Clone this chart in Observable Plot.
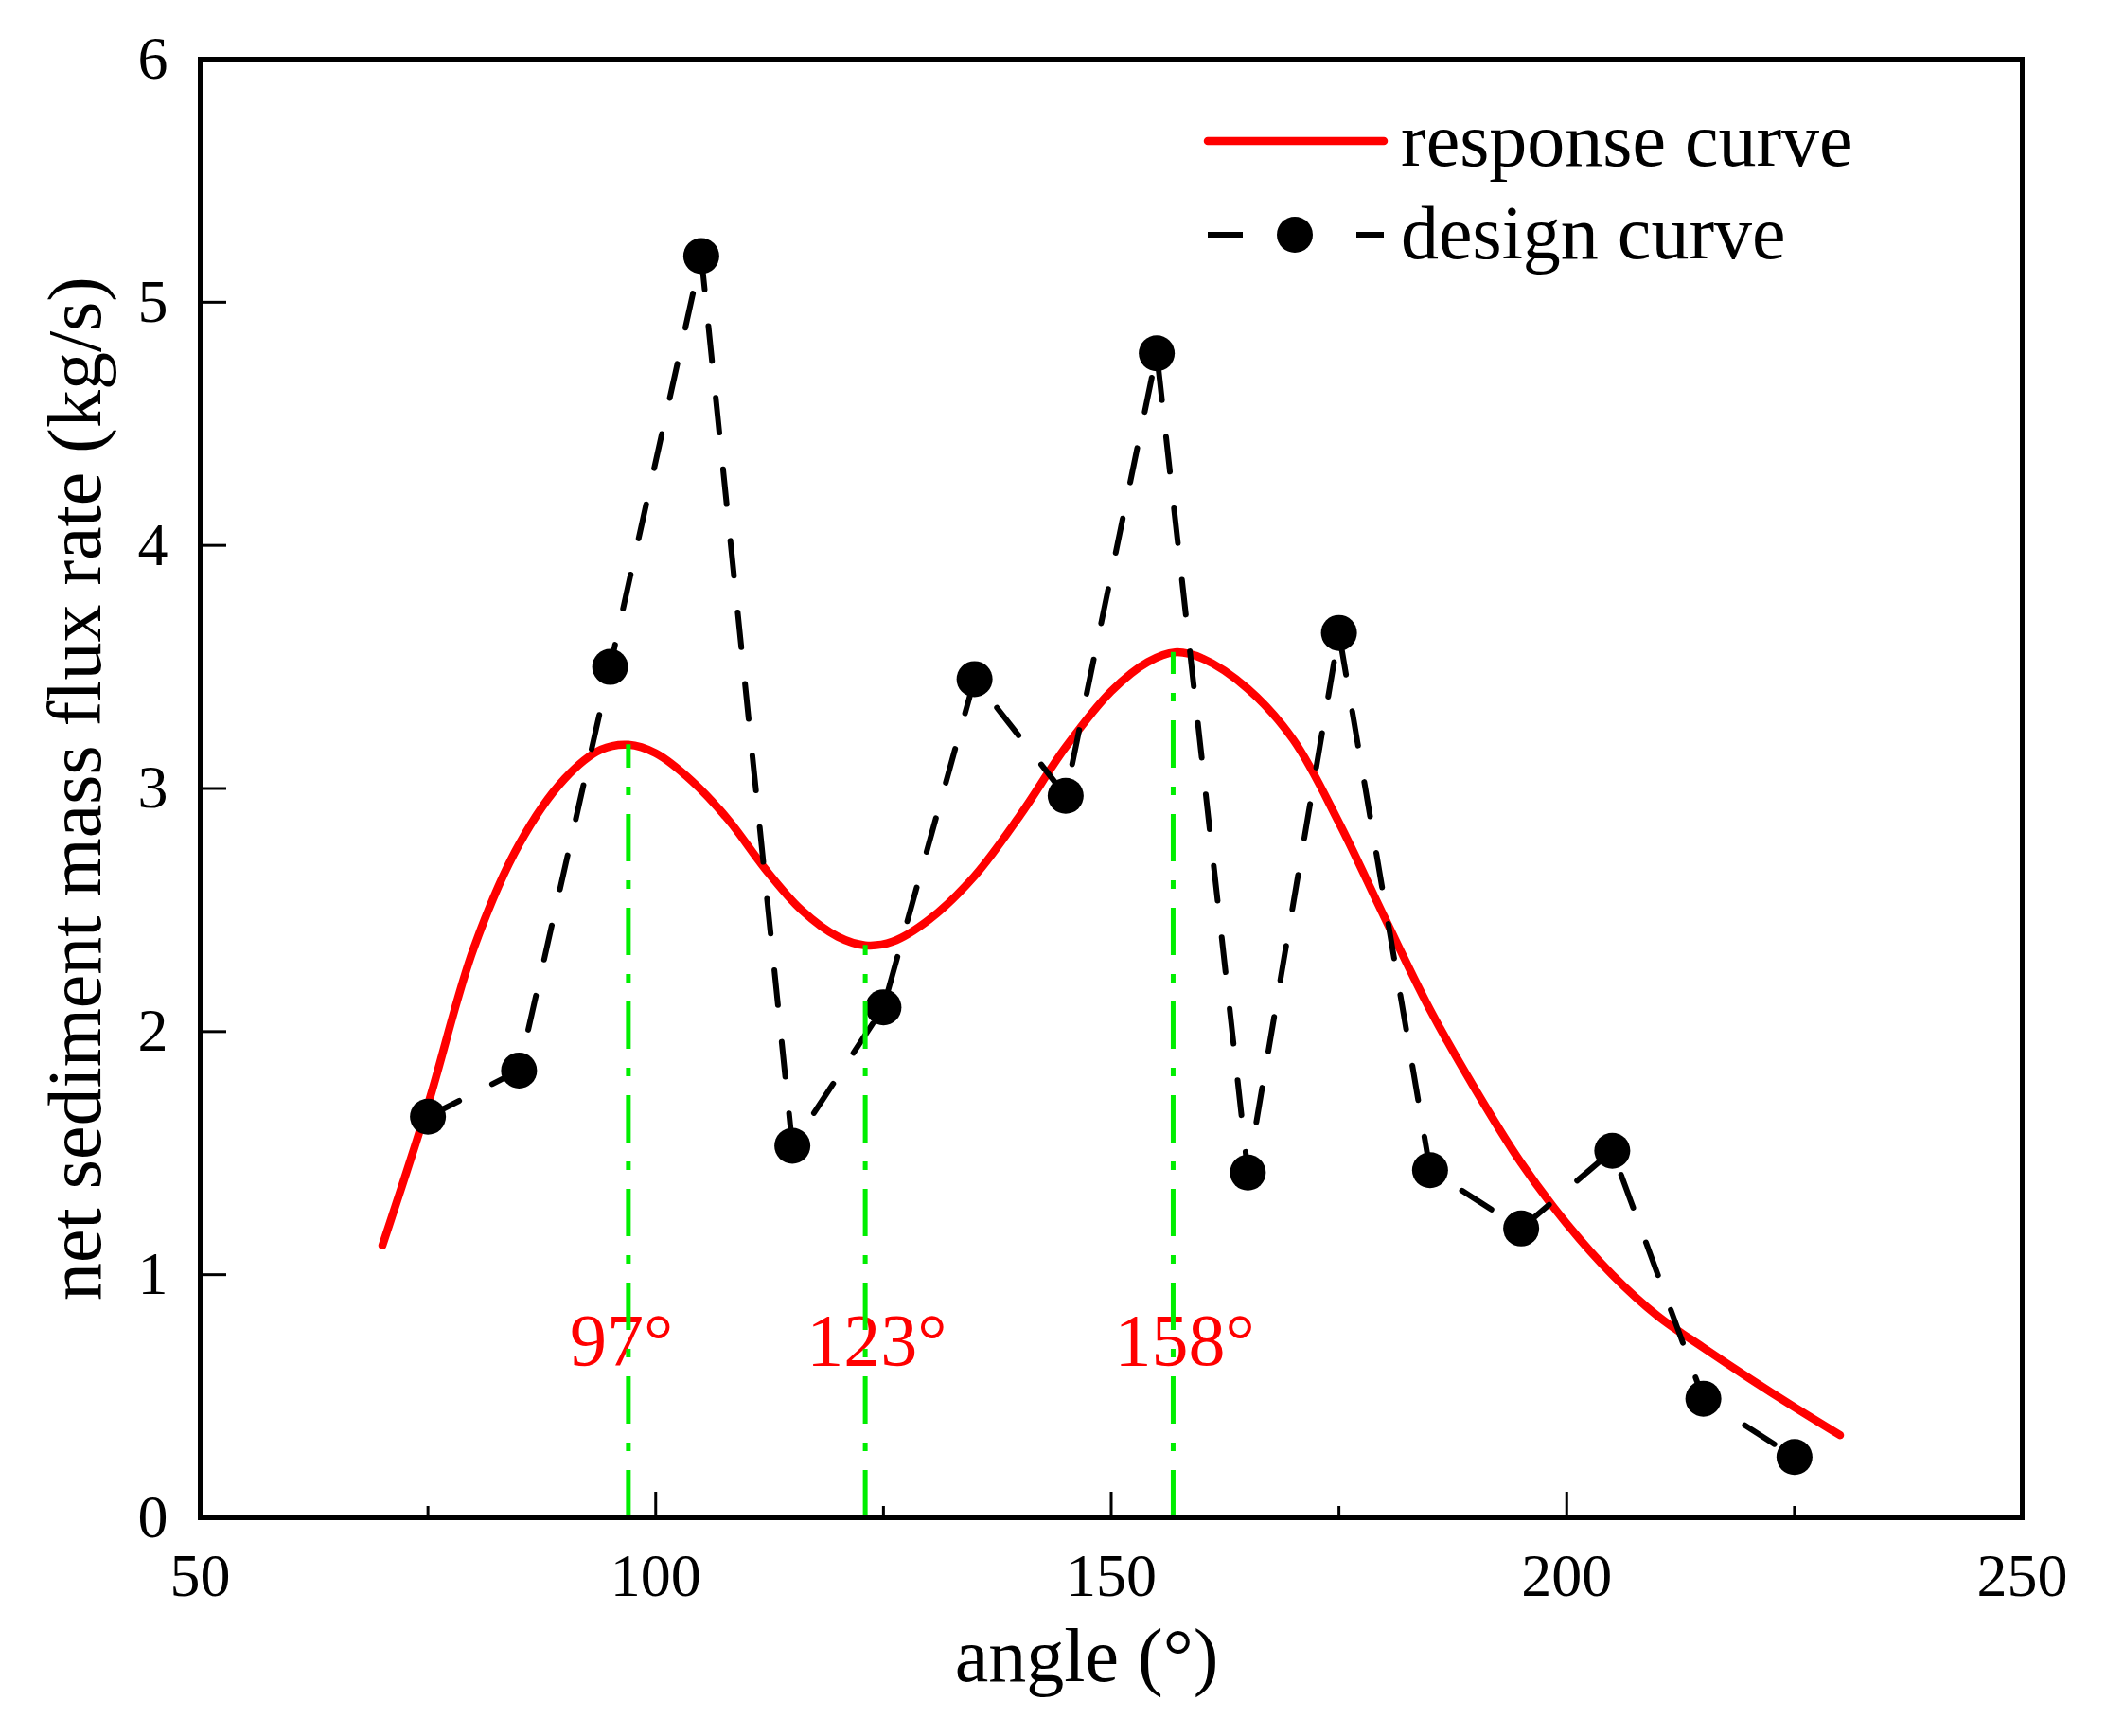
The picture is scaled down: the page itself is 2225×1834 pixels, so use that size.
<!DOCTYPE html>
<html>
<head>
<meta charset="utf-8">
<script src="https://cdn.jsdelivr.net/npm/d3@7"></script>
<script src="https://cdn.jsdelivr.net/npm/@observablehq/plot@0.6"></script>
<style>
  body { margin: 0; background: #fff; }
  #chart { position: relative; width: 2225px; height: 1834px; }
</style>
</head>
<body>
<div id="chart"></div>
<script>
// response curve
const responseAngle = [70, 75, 80, 85, 90, 94, 97, 100, 104, 108, 112, 116, 120, 123, 126, 130, 135, 140, 145, 150, 154, 157, 160, 165, 170, 175, 180, 185, 190, 195, 200, 205, 210, 215, 220, 225, 230];
const responseRate = [1.12, 1.70, 2.34, 2.77, 3.04, 3.16, 3.18, 3.145, 3.03, 2.87, 2.67, 2.50, 2.39, 2.355, 2.37, 2.46, 2.64, 2.89, 3.17, 3.40, 3.52, 3.56, 3.535, 3.41, 3.20, 2.86, 2.47, 2.09, 1.76, 1.46, 1.21, 1.00, 0.83, 0.70, 0.575, 0.455, 0.34];

// design curve
const designAngle = [75, 85, 95, 105, 115, 125, 135, 145, 155, 165, 175, 185, 195, 205, 215, 225];
const designRate = [1.65, 1.84, 3.50, 5.19, 1.53, 2.10, 3.45, 2.97, 4.79, 1.42, 3.64, 1.43, 1.19, 1.51, 0.49, 0.25];

// marked extremes
const peakAngle = [97, 123, 156.8];
const peakRate = [3.18, 2.355, 3.56];
const peakLabels = ["97°", "123°", "158°"];

const xTicks = [50, 100, 150, 200, 250];
const xMinorTicks = [75, 125, 175, 225];
const yTicks = [0, 1, 2, 3, 4, 5, 6];
const legendLabels = ["response curve", "design curve"];
const xTitle = "angle (°)";
const yTitle = "net sediment mass flux rate (kg/s)";

const response = responseAngle.map((a, i) => ({angle: a, rate: responseRate[i]}));
const design = designAngle.map((a, i) => ({angle: a, rate: designRate[i]}));
const peaks = peakAngle.map((a, i) => ({angle: a, rate: peakRate[i], label: peakLabels[i]}));

const serif = "'Liberation Serif', 'Times New Roman', serif";

const chart = Plot.plot({
  width: 2225,
  height: 1834,
  marginLeft: 211,
  marginRight: 89,
  marginTop: 62,
  marginBottom: 231,
  style: {fontFamily: serif, fontSize: "64px", background: "white", color: "black"},
  x: {domain: [50, 250]},
  y: {domain: [0, 6]},
  marks: [
    Plot.line(response, {x: "angle", y: "rate", stroke: "#ff0000", strokeWidth: 8.5, curve: "catmull-rom"}),
    Plot.line(design, {x: "angle", y: "rate", stroke: "black", strokeWidth: 6, strokeDasharray: "37,39"}),
    Plot.dot(design, {x: "angle", y: "rate", r: 19, fill: "black"}),
    Plot.text(peaks, {x: "angle", text: "label", frameAnchor: "bottom", lineAnchor: "middle", textAnchor: "start", dx: -62, dy: -186, fill: "#ff0000", fontSize: 78}),
    Plot.ruleX(peaks, {x: "angle", y1: 0, y2: "rate", stroke: "#00ee00", strokeWidth: 5, strokeDasharray: "50,20,9,20"}),
    Plot.axisX({ticks: xTicks, tickSize: -27, strokeWidth: 3, tickFormat: () => "", label: null}),
    Plot.axisX({ticks: xMinorTicks, tickSize: -12, strokeWidth: 3, tickFormat: () => "", label: null}),
    Plot.axisX({ticks: xTicks, tickSize: 0, tickPadding: 37, fontSize: 64, tickFormat: d => String(d), label: null}),
    Plot.axisY({ticks: yTicks, tickSize: -28, strokeWidth: 3, tickFormat: () => "", label: null}),
    Plot.axisY({ticks: yTicks, tickSize: 0, tickPadding: 34, fontSize: 64, tickFormat: d => String(d), label: null}),
    Plot.frame({strokeWidth: 5}),
    Plot.text([xTitle], {frameAnchor: "bottom", lineAnchor: "middle", textAnchor: "middle", dx: -26, dy: 147, fontSize: 80}),
    Plot.text([yTitle], {frameAnchor: "left", lineAnchor: "middle", textAnchor: "middle", rotate: -90, dx: -131, fontSize: 80})
  ]
});

const holder = document.getElementById("chart");
holder.appendChild(chart);

// legend drawn on top of the frame, top right
const legend = d3.create("svg")
  .attr("width", 2225)
  .attr("height", 1834)
  .style("position", "absolute")
  .style("left", "0px")
  .style("top", "0px")
  .style("font-family", serif);

legend.append("line")
  .attr("x1", 1276).attr("x2", 1462).attr("y1", 149).attr("y2", 149)
  .attr("stroke", "#ff0000").attr("stroke-width", 8.5).attr("stroke-linecap", "round");

legend.append("line")
  .attr("x1", 1276).attr("x2", 1313).attr("y1", 248).attr("y2", 248)
  .attr("stroke", "black").attr("stroke-width", 6);
legend.append("line")
  .attr("x1", 1433).attr("x2", 1462).attr("y1", 248).attr("y2", 248)
  .attr("stroke", "black").attr("stroke-width", 6);
legend.append("circle")
  .attr("cx", 1368).attr("cy", 248).attr("r", 19).attr("fill", "black");

legend.selectAll("text")
  .data(legendLabels)
  .join("text")
  .attr("x", 1480)
  .attr("y", (d, i) => 175 + i * 98)
  .attr("font-size", 80)
  .attr("fill", "black")
  .text(d => d);

holder.appendChild(legend.node());
</script>
</body>
</html>
